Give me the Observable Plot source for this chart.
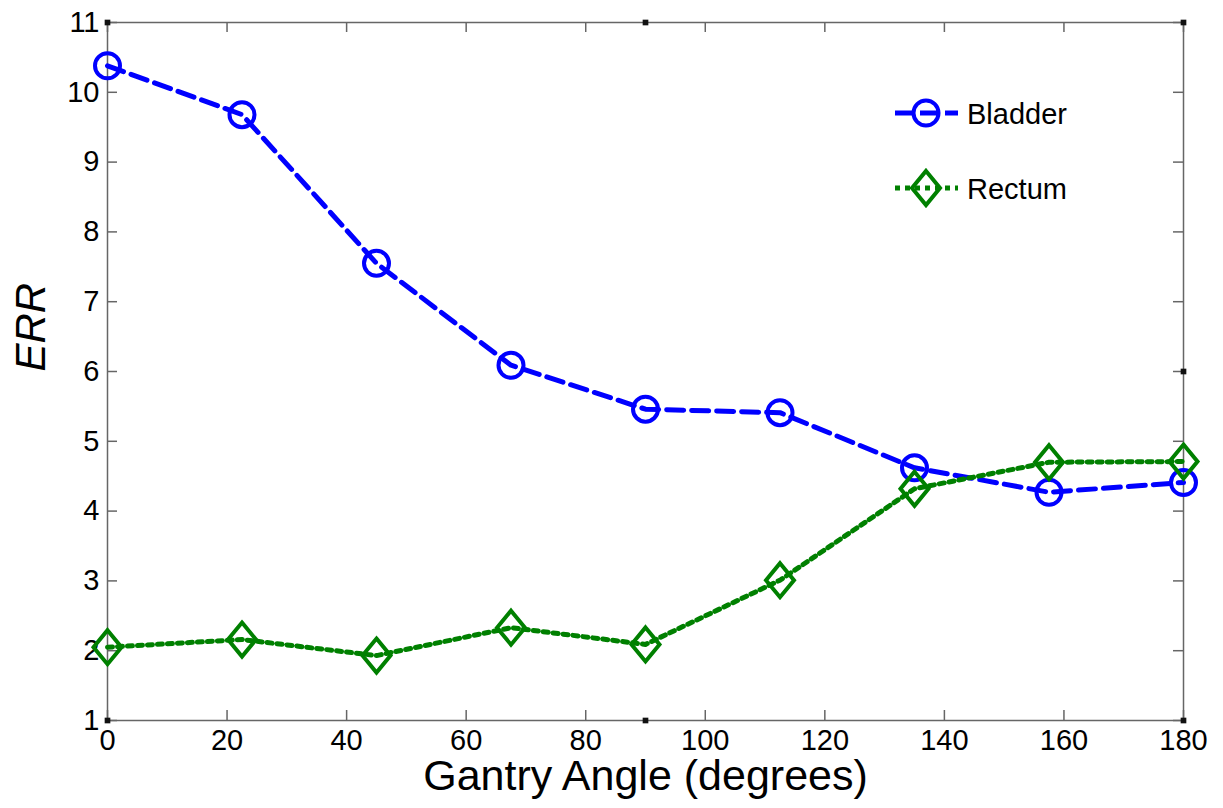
<!DOCTYPE html>
<html>
<head>
<meta charset="utf-8">
<script src="https://cdn.jsdelivr.net/npm/d3@7"></script>
<script src="https://cdn.jsdelivr.net/npm/@observablehq/plot@0.6"></script>
<style>
  html, body { margin: 0; padding: 0; background: #fff; }
  #wrap { position: relative; width: 1223px; height: 808px; font-family: "Liberation Sans", Arial, sans-serif; }
  #legend { position: absolute; left: 0; top: 0; pointer-events: none; }
</style>
</head>
<body>
<div id="wrap"></div>
<script>
// ---- data ----
const angles = [0, 22.5, 45, 67.5, 90, 112.5, 135, 157.5, 180];
const bladder = [10.38, 9.68, 7.55, 6.09, 5.46, 5.41, 4.62, 4.27, 4.41];
const rectum = [2.05, 2.16, 1.93, 2.33, 2.09, 3.01, 4.32, 4.70, 4.71];
const xTicks = [0, 20, 40, 60, 80, 100, 120, 140, 160, 180];
const yTicks = [1, 2, 3, 4, 5, 6, 7, 8, 9, 10, 11];
const xDomain = [0, 180];
const yDomain = [1, 11];
const seriesNames = ["Bladder", "Rectum"];
const xLabel = "Gantry Angle (degrees)";
const yLabel = "ERR";

const blue = "#0000ff";
const green = "#008000";
const font = "'Liberation Sans', Arial, sans-serif";

const bladderData = angles.map((a, i) => ({x: a, y: bladder[i]}));
const rectumData = angles.map((a, i) => ({x: a, y: rectum[i]}));
const corners = [
  {x: xDomain[0], y: yDomain[0]}, {x: xDomain[1], y: yDomain[0]},
  {x: xDomain[0], y: yDomain[1]}, {x: xDomain[1], y: yDomain[1]},
  {x: 90, y: yDomain[0]}, {x: 90, y: yDomain[1]}, {x: xDomain[1], y: 6}
];

const diamond = {
  draw(ctx) {
    ctx.moveTo(0, -17); ctx.lineTo(14, 0); ctx.lineTo(0, 17); ctx.lineTo(-14, 0); ctx.closePath();
  }
};

const W = 1223, H = 808, mL = 107, mR = 40, mT = 22, mB = 88;
const fw = W - mL - mR, fh = H - mT - mB;
const blueDash = "17,8", greenDash = "5,5";

const chart = Plot.plot({
  width: W, height: H,
  marginLeft: mL, marginRight: mR, marginTop: mT, marginBottom: mB,
  style: {fontFamily: font, fontSize: "29px", background: "#fff", color: "#000", overflow: "visible"},
  x: {domain: xDomain},
  y: {domain: yDomain},
  marks: [
    Plot.frame({stroke: "#666", strokeWidth: 1.5}),
    // inward ticks bottom/top/left/right
    Plot.tickX(xTicks, {x: d => d, insetTop: fh - 10, stroke: "#666", strokeWidth: 1.5}),
    Plot.tickX(xTicks, {x: d => d, insetBottom: fh - 10, stroke: "#666", strokeWidth: 1.5}),
    Plot.tickY(yTicks, {y: d => d, insetRight: fw - 10, stroke: "#666", strokeWidth: 1.5}),
    Plot.tickY(yTicks, {y: d => d, insetLeft: fw - 10, stroke: "#666", strokeWidth: 1.5}),
    Plot.dot(corners, {x: "x", y: "y", symbol: "square", r: 3.2, fill: "#111", stroke: "none"}),
    Plot.axisX({ticks: xTicks, tickSize: 0, tickPadding: 9, fontSize: 29, label: null, tickFormat: d => String(d)}),
    Plot.axisY({ticks: yTicks, tickSize: 0, tickPadding: 8, fontSize: 29, label: null, tickFormat: d => String(d)}),
    Plot.text([xLabel], {frameAnchor: "bottom", dy: 69, fontSize: 43, text: d => d, fill: "#000", style: "letter-spacing:2.4px"}),
    Plot.text([yLabel], {frameAnchor: "left", dx: -76, rotate: -90, fontSize: 42, fontStyle: "italic", text: d => d, fill: "#000"}),
    Plot.line(bladderData, {x: "x", y: "y", stroke: blue, strokeWidth: 5, strokeDasharray: blueDash}),
    Plot.line(rectumData, {x: "x", y: "y", stroke: green, strokeWidth: 5, strokeDasharray: greenDash}),
    Plot.dot(bladderData, {x: "x", y: "y", r: 12.5, stroke: blue, strokeWidth: 4, fill: "none"}),
    Plot.dot(rectumData, {x: "x", y: "y", symbol: diamond, r: 10, stroke: green, strokeWidth: 4, fill: "none"})
  ]
});

const wrap = document.getElementById("wrap");
wrap.appendChild(chart);

// ---- legend overlay ----
const lg = d3.select(wrap).append("svg").attr("id", "legend").attr("width", W).attr("height", H);
const items = [
  {name: seriesNames[0], color: blue, dash: blueDash, y: 113, sym: "circle"},
  {name: seriesNames[1], color: green, dash: greenDash, y: 188, sym: "diamond"}
];
items.forEach(it => {
  const g = lg.append("g");
  g.append("line").attr("x1", 895).attr("x2", 958).attr("y1", it.y).attr("y2", it.y)
    .attr("stroke", it.color).attr("stroke-width", 5).attr("stroke-dasharray", it.dash);
  if (it.sym === "circle") {
    g.append("circle").attr("cx", 926).attr("cy", it.y).attr("r", 12.5)
      .attr("fill", "none").attr("stroke", it.color).attr("stroke-width", 4);
  } else {
    g.append("path").attr("d", `M926,${it.y - 17}L940,${it.y}L926,${it.y + 17}L912,${it.y}Z`)
      .attr("fill", "none").attr("stroke", it.color).attr("stroke-width", 4);
  }
  g.append("text").attr("x", 967).attr("y", it.y + 11).attr("font-size", 29)
    .attr("font-family", font).attr("fill", "#000").text(it.name);
});
</script>
</body>
</html>
